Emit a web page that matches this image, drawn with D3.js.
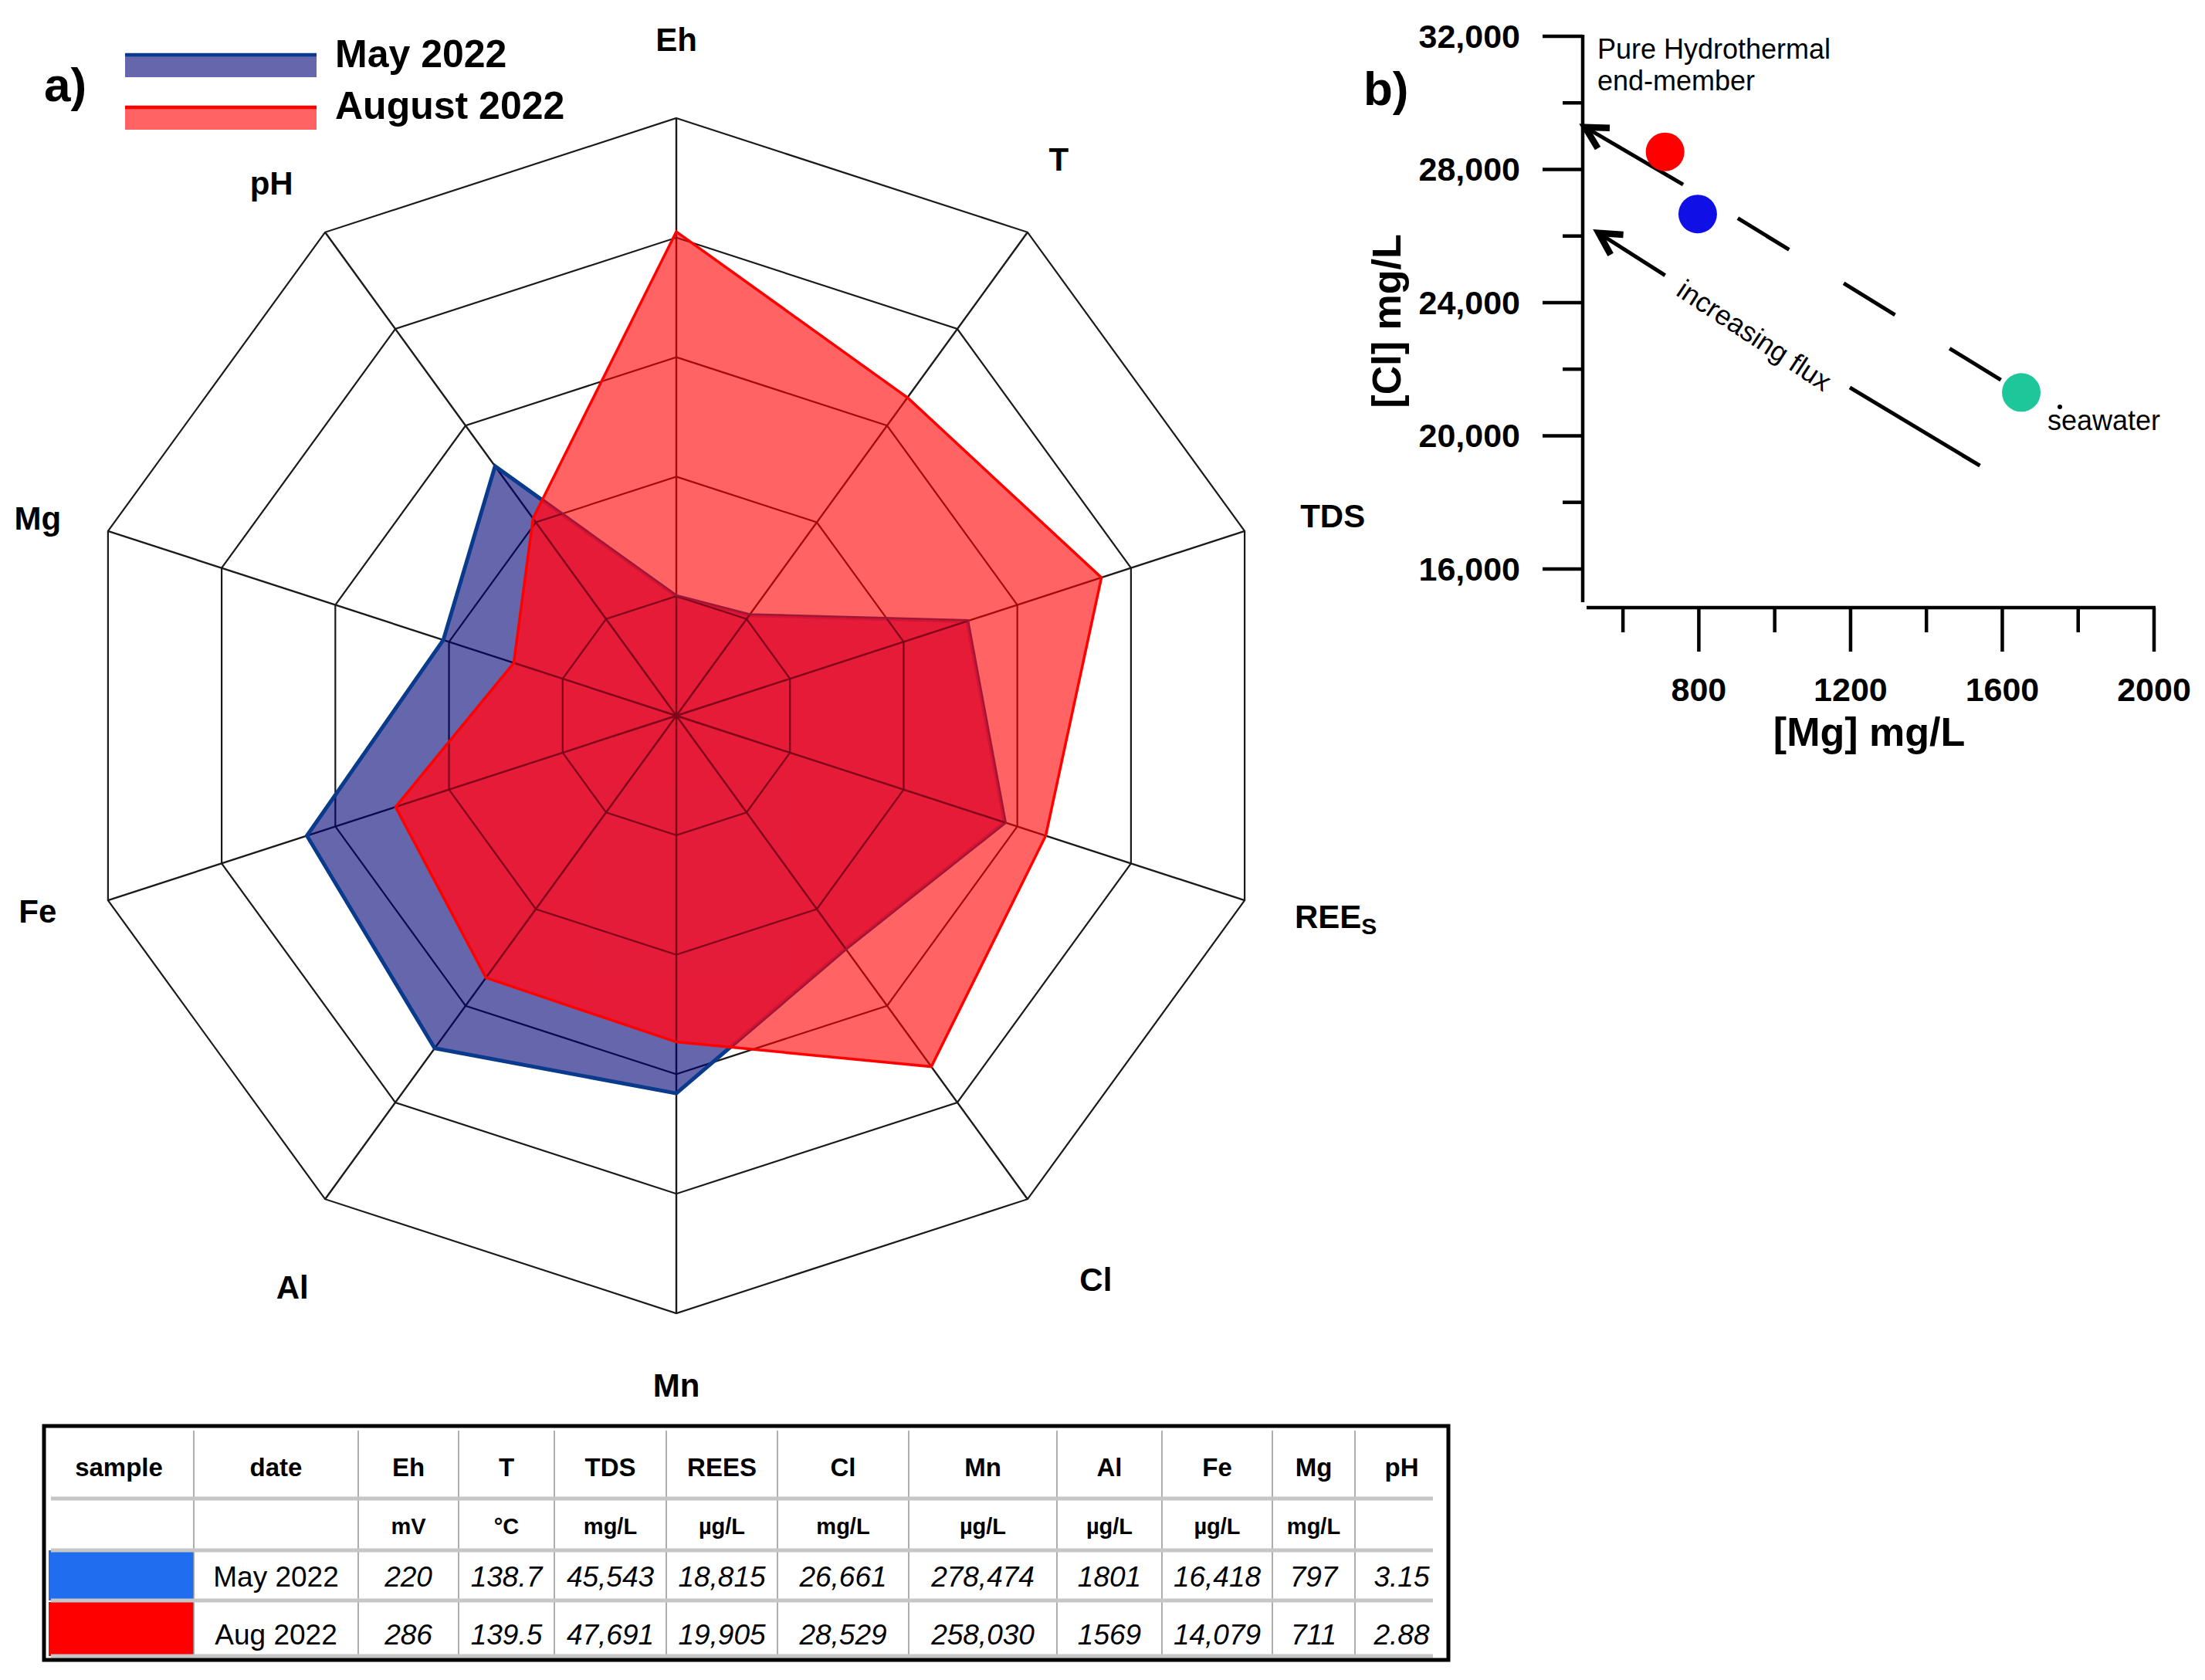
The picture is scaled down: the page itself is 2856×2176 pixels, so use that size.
<!DOCTYPE html>
<html><head><meta charset="utf-8">
<script src="https://cdn.jsdelivr.net/npm/d3@7"></script>
<style>
body{margin:0;background:#fff;}
svg{display:block;}
text{font-family:"Liberation Sans", Arial, Helvetica, sans-serif;fill:#000;}
</style>
</head><body>
<svg id="chart" width="2856" height="2176"></svg>
<script>
// ---------------- DATA ----------------
// radar (panel a): scores read on the 0–5 ring scale
const axes = ["Eh","T","TDS","REEs","Cl","Mn","Al","Fe","Mg","pH"];
const mayScore = [1.0, 1.04, 2.56, 2.89, 2.41, 3.16, 3.44, 3.25, 2.05, 2.58];
const augScore = [4.05, 3.29, 3.74, 3.25, 3.63, 2.73, 2.71, 2.47, 1.43, 2.04];
const ringLevels = [1, 2, 3, 4, 5];
const seriesNames = ["May 2022", "August 2022"];

// scatter (panel b)
const scatterName = ["August 2022", "May 2022", "seawater"];
const scatterMg = [711, 797, 1650];
const scatterCl = [28529, 26661, 21300];
const xTicksMajor = [800, 1200, 1600, 2000];
const xTicksMinor = [600, 1000, 1400, 1800];
const yTicksMajor = [16000, 20000, 24000, 28000, 32000];
const yTicksMinor = [18000, 22000, 26000, 30000];
const mixingLine = [[1650, 21300], [758, 27550], [500, 29270]];   // seawater -> junction -> end-member
const fluxArrow = [[1541, 19100], [1198, 21450], [711, 24820], [536, 26090]]; // tail, gap start, gap end, head

// table
const tableHeaders = ["sample","date","Eh","T","TDS","REES","Cl","Mn","Al","Fe","Mg","pH"];
const tableUnits   = ["","","mV","°C","mg/L","µg/L","mg/L","µg/L","µg/L","µg/L","mg/L",""];
const tableDates   = ["May 2022", "Aug 2022"];
const mayValues = ["220","138.7","45,543","18,815","26,661","278,474","1801","16,418","797","3.15"];
const augValues = ["286","139.5","47,691","19,905","28,529","258,030","1569","14,079","711","2.88"];

// ---------------- STYLE ----------------
const MAY_FILL = "rgb(0,0,118)", MAY_OP = 0.6, MAY_STROKE = "#0a3a8c";
const AUG_FILL = "rgb(255,0,0)", AUG_OP = 0.61, AUG_STROKE = "#ff0000";
const OVL_FILL = "rgb(255,20,50)", OVL_OP = 0.56;

const svg = d3.select("#chart");
const defs = svg.append("defs");

// ---------------- PANEL A: RADAR ----------------
const cx = 876, cy = 927, R = 774;
const rScale = d3.scaleLinear().domain([0, 5]).range([0, R]);
const aScale = d3.scaleLinear().domain([0, axes.length]).range([0, 2 * Math.PI]);
const radial = d3.lineRadial()
  .angle((d, i) => aScale(i))
  .radius(d => rScale(d))
  .curve(d3.curveLinearClosed);

defs.append("clipPath").attr("id", "clipMay")
  .append("path").attr("d", radial(mayScore)).attr("transform", `translate(${cx},${cy})`);
defs.append("clipPath").attr("id", "clipAug")
  .append("path").attr("d", radial(augScore)).attr("transform", `translate(${cx},${cy})`);

const gA = svg.append("g").attr("transform", `translate(${cx},${cy})`);

function drawGrid(g, color, wRing, wSpoke) {
  g.selectAll("path.ring").data(ringLevels).join("path")
    .attr("class", "ring")
    .attr("d", l => radial(axes.map(() => l)))
    .attr("fill", "none").attr("stroke", color).attr("stroke-width", wRing);
  g.selectAll("line.spoke").data(axes).join("line")
    .attr("class", "spoke")
    .attr("x1", 0).attr("y1", 0)
    .attr("x2", (d, i) => rScale(5) * Math.sin(aScale(i)))
    .attr("y2", (d, i) => -rScale(5) * Math.cos(aScale(i)))
    .attr("stroke", color).attr("stroke-width", wSpoke);
}
drawGrid(gA.append("g"), "#1a1a1a", 2.2, 2.4);

// May series
gA.append("path").attr("d", radial(mayScore))
  .attr("fill", MAY_FILL).attr("fill-opacity", MAY_OP)
  .attr("stroke", MAY_STROKE).attr("stroke-width", 5);
// August series fill
gA.append("path").attr("d", radial(augScore))
  .attr("fill", AUG_FILL).attr("fill-opacity", AUG_OP);
// overlap (August ∩ May) tint + grid seen through it
const ovl = svg.append("g").attr("clip-path", "url(#clipMay)")
  .append("g").attr("clip-path", "url(#clipAug)")
  .append("g").attr("transform", `translate(${cx},${cy})`);
ovl.append("path").attr("d", radial(augScore)).attr("fill", OVL_FILL).attr("fill-opacity", OVL_OP);
drawGrid(ovl.append("g").attr("opacity", 0.55), "#3a0010", 2.2, 2.4);
// August outline on top
svg.append("path").attr("transform", `translate(${cx},${cy})`).attr("d", radial(augScore))
  .attr("fill", "none").attr("stroke", AUG_STROKE).attr("stroke-width", 3.5);

// axis labels
const labelR = 875;
const labelNudge = [[0,-1],[-19,-13],[18,12],[22,-10],[29,23],[0,-8],[17,33],[5,-17],[5,15],[-10,18]];
const labs = gA.selectAll("text.axlab").data(axes).join("text")
  .attr("class", "axlab")
  .attr("x", (d, i) => labelR * Math.sin(aScale(i)) + labelNudge[i][0])
  .attr("y", (d, i) => -labelR * Math.cos(aScale(i)) + labelNudge[i][1])
  .attr("text-anchor", "middle").attr("dominant-baseline", "central")
  .attr("font-size", 42).attr("font-weight", "bold");
labs.each(function(d) {
  const t = d3.select(this);
  if (d === "REEs") {
    t.append("tspan").text("REE");
    t.append("tspan").text("S").attr("font-size", 30).attr("dy", 12);
  } else t.text(d);
});

// panel label + legend
svg.append("text").attr("x", 57).attr("y", 131).attr("font-size", 62).attr("font-weight", "bold").text("a)");
const legend = svg.append("g");
const legFill = [[MAY_FILL, MAY_OP, MAY_STROKE], [AUG_FILL, AUG_OP, AUG_STROKE]];
seriesNames.forEach((name, i) => {
  const y0 = 69 + i * 68;
  legend.append("rect").attr("x", 162).attr("y", y0).attr("width", 248).attr("height", 31)
    .attr("fill", legFill[i][0]).attr("fill-opacity", legFill[i][1]);
  legend.append("line").attr("x1", 162).attr("x2", 410).attr("y1", y0 + 2).attr("y2", y0 + 2)
    .attr("stroke", legFill[i][2]).attr("stroke-width", 4.5);
  legend.append("text").attr("x", 434).attr("y", 87 + i * 67).attr("font-size", 50)
    .attr("font-weight", "bold").text(name);
});

// ---------------- PANEL B: SCATTER ----------------
const x = d3.scaleLinear().domain([500, 2000]).range([2053, 2790]);
const y = d3.scaleLinear().domain([15000, 32000]).range([780, 47]);
const gB = svg.append("g");
const axY = 2050, axX = 787;
const AXW = 4.5;

gB.append("line").attr("x1", axY).attr("x2", axY).attr("y1", y(32000) - 2).attr("y2", y(15000))
  .attr("stroke", "#000").attr("stroke-width", AXW);
gB.selectAll("line.ytmaj").data(yTicksMajor).join("line").attr("class", "ytmaj")
  .attr("x1", axY - 52).attr("x2", axY).attr("y1", d => y(d)).attr("y2", d => y(d))
  .attr("stroke", "#000").attr("stroke-width", AXW);
gB.selectAll("line.ytmin").data(yTicksMinor).join("line").attr("class", "ytmin")
  .attr("x1", axY - 26).attr("x2", axY).attr("y1", d => y(d)).attr("y2", d => y(d))
  .attr("stroke", "#000").attr("stroke-width", AXW);
gB.selectAll("text.ytl").data(yTicksMajor).join("text").attr("class", "ytl")
  .attr("x", 1969).attr("y", d => y(d)).attr("text-anchor", "end").attr("dominant-baseline", "central")
  .attr("font-size", 43).attr("font-weight", "bold").text(d => d3.format(",")(d));

gB.append("line").attr("x1", x(500) + 2).attr("x2", x(2000) + 2).attr("y1", axX).attr("y2", axX)
  .attr("stroke", "#000").attr("stroke-width", AXW);
gB.selectAll("line.xtmaj").data(xTicksMajor).join("line").attr("class", "xtmaj")
  .attr("x1", d => x(d)).attr("x2", d => x(d)).attr("y1", axX).attr("y2", axX + 57)
  .attr("stroke", "#000").attr("stroke-width", AXW);
gB.selectAll("line.xtmin").data(xTicksMinor).join("line").attr("class", "xtmin")
  .attr("x1", d => x(d)).attr("x2", d => x(d)).attr("y1", axX).attr("y2", axX + 32)
  .attr("stroke", "#000").attr("stroke-width", AXW);
gB.selectAll("text.xtl").data(xTicksMajor).join("text").attr("class", "xtl")
  .attr("x", d => x(d)).attr("y", 893).attr("text-anchor", "middle").attr("dominant-baseline", "central")
  .attr("font-size", 43).attr("font-weight", "bold").text(d => d);

gB.append("text").attr("transform", "translate(1796,416) rotate(-90)")
  .attr("text-anchor", "middle").attr("dominant-baseline", "central")
  .attr("font-size", 52).attr("font-weight", "bold").text("[Cl] mg/L");
gB.append("text").attr("x", 2421).attr("y", 948)
  .attr("text-anchor", "middle").attr("dominant-baseline", "central")
  .attr("font-size", 52).attr("font-weight", "bold").text("[Mg] mg/L");
gB.append("text").attr("x", 1766).attr("y", 136).attr("font-size", 62).attr("font-weight", "bold").text("b)");

// mixing line: dashed part (seawater -> junction), solid arrow (junction -> end-member)
const P = d => [x(d[0]), y(d[1])];
const line = d3.line();
gB.append("path").attr("d", line([P(mixingLine[0]), P(mixingLine[1])]))
  .attr("stroke", "#000").attr("stroke-width", 5).attr("fill", "none")
  .attr("stroke-dasharray", "78 83").attr("stroke-dashoffset", 130);
function arrow(g, from, to) {
  const [x0, y0] = P(from), [x1, y1] = P(to);
  g.append("path").attr("d", line([[x0, y0], [x1, y1]]))
    .attr("stroke", "#000").attr("stroke-width", 5).attr("fill", "none");
  const ang = Math.atan2(y0 - y1, x0 - x1), L = 32, sp = Math.PI / 6.3;
  g.append("path")
    .attr("d", line([[x1 + L * Math.cos(ang + sp), y1 + L * Math.sin(ang + sp)], [x1, y1],
                     [x1 + L * Math.cos(ang - sp), y1 + L * Math.sin(ang - sp)]]))
    .attr("stroke", "#000").attr("stroke-width", 8.5).attr("fill", "none")
    .attr("stroke-linecap", "butt").attr("stroke-linejoin", "miter").attr("stroke-miterlimit", 10);
}
arrow(gB, mixingLine[1], mixingLine[2]);

// increasing-flux arrow with a gap for its text
gB.append("path").attr("d", line([P(fluxArrow[0]), P(fluxArrow[1])]))
  .attr("stroke", "#000").attr("stroke-width", 5).attr("fill", "none");
arrow(gB, fluxArrow[2], fluxArrow[3]);
{
  const a = P(fluxArrow[1]), b = P(fluxArrow[2]);
  const mx = (a[0] + b[0]) / 2, my = (a[1] + b[1]) / 2;
  const deg = Math.atan2(a[1] - b[1], a[0] - b[0]) * 180 / Math.PI + 2;
  gB.append("text").attr("transform", `translate(${mx - 4},${my + 5}) rotate(${deg})`)
    .attr("text-anchor", "middle").attr("dominant-baseline", "central")
    .attr("font-size", 36).text("increasing flux");
}

// points
const ptColors = ["#ff0000", "#1010e6", "#1ec79a"];
gB.selectAll("circle.pt").data(scatterMg).join("circle").attr("class", "pt")
  .attr("cx", d => x(d)).attr("cy", (d, i) => y(scatterCl[i])).attr("r", 25)
  .attr("fill", (d, i) => ptColors[i]);

gB.append("text").attr("x", 2069).attr("y", 76).attr("font-size", 36).text("Pure Hydrothermal");
gB.append("text").attr("x", 2069).attr("y", 117).attr("font-size", 36).text("end-member");
gB.append("text").attr("x", 2652).attr("y", 557).attr("font-size", 36).text(scatterName[2]);
gB.append("circle").attr("cx", 2668).attr("cy", 527).attr("r", 3).attr("fill", "#000");

// ---------------- TABLE ----------------
const colEdges = [57, 251, 464, 594, 718, 863, 1007, 1177, 1369, 1505, 1648, 1755, 1876];
const colMid = colEdges.slice(0, -1).map((e, i) => (e + colEdges[i + 1]) / 2);
const tTop = 1847, tBot = 2150;
const rowMid = [1900, 1977, 2042, 2117];
const sepY = [1941, 2008, 2073, 2145];
const gT = svg.append("g");

gT.append("rect").attr("x", 63).attr("y", 2008).attr("width", 188).attr("height", 65).attr("fill", "#1f6ef0");
gT.append("rect").attr("x", 63).attr("y", 2075).attr("width", 188).attr("height", 70).attr("fill", "#ff0000");

gT.selectAll("line.vsep").data(colEdges.slice(1, -1)).join("line").attr("class", "vsep")
  .attr("x1", d => d).attr("x2", d => d).attr("y1", 1853).attr("y2", 2145)
  .attr("stroke", "#9a9a9a").attr("stroke-width", 1.6);
gT.selectAll("line.hsep").data(sepY).join("line").attr("class", "hsep")
  .attr("x1", 66).attr("x2", 1856).attr("y1", d => d).attr("y2", d => d)
  .attr("stroke", "#c6c6c6").attr("stroke-width", 5);
gT.append("rect").attr("x", 57).attr("y", tTop).attr("width", 1876 - 57).attr("height", tBot - tTop)
  .attr("fill", "none").attr("stroke", "#000").attr("stroke-width", 5);

gT.selectAll("text.hdr").data(tableHeaders).join("text").attr("class", "hdr")
  .attr("x", (d, i) => colMid[i]).attr("y", rowMid[0]).attr("text-anchor", "middle")
  .attr("dominant-baseline", "central").attr("font-size", 33).attr("font-weight", "bold").text(d => d);
gT.selectAll("text.unit").data(tableUnits).join("text").attr("class", "unit")
  .attr("x", (d, i) => colMid[i]).attr("y", rowMid[1]).attr("text-anchor", "middle")
  .attr("dominant-baseline", "central").attr("font-size", 29).attr("font-weight", "bold").text(d => d);
tableDates.forEach((d, r) => {
  gT.append("text").attr("x", colMid[1]).attr("y", rowMid[2 + r]).attr("text-anchor", "middle")
    .attr("dominant-baseline", "central").attr("font-size", 37).text(d);
});
[mayValues, augValues].forEach((vals, r) => {
  gT.selectAll(`text.val${r}`).data(vals).join("text").attr("class", `val${r}`)
    .attr("x", (d, i) => colMid[i + 2]).attr("y", rowMid[2 + r]).attr("text-anchor", "middle")
    .attr("dominant-baseline", "central").attr("font-size", 37).attr("font-style", "italic").text(d => d);
});
</script>
</body></html>
